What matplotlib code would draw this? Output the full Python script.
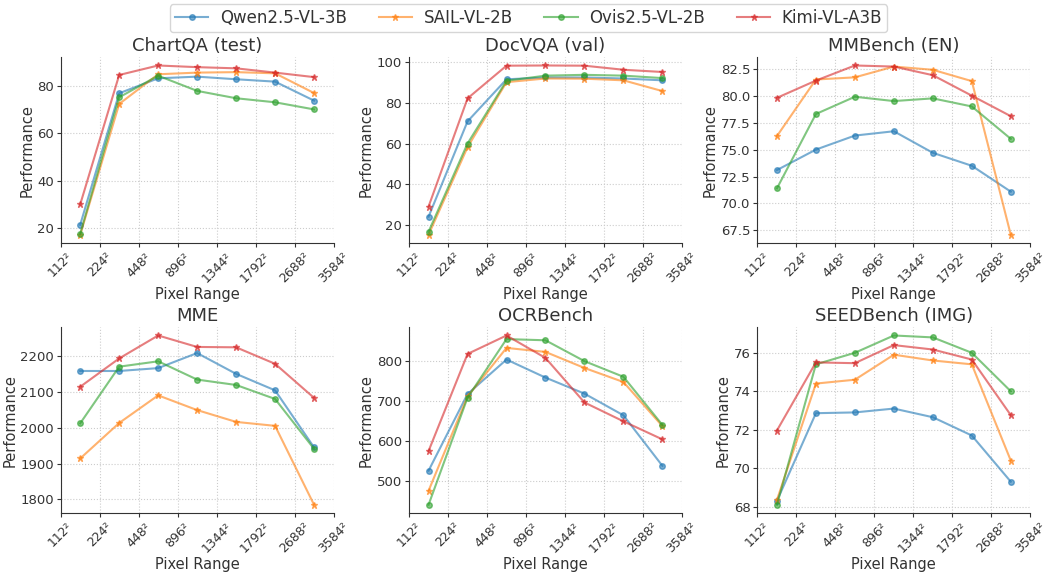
import matplotlib.pyplot as plt
from matplotlib.ticker import MultipleLocator
import numpy as np

models = ["Qwen2.5-VL-3B", "SAIL-VL-2B", "Ovis2.5-VL-2B", "Kimi-VL-A3B"]
tick_labels = ["112²", "224²", "448²", "896²", "1344²", "1792²", "2688²", "3584²"]

chartqa = [
    [21.4, 76.8, 83.1, 83.8, 82.7, 81.7, 73.7],
    [17.2, 72.3, 84.8, 85.5, 85.7, 85.2, 76.9],
    [17.6, 75.1, 84.2, 77.8, 74.7, 73.0, 70.0],
    [30.0, 84.5, 88.5, 87.8, 87.3, 85.5, 83.6],
]
docvqa = [
    [24.1, 71.0, 91.7, 92.6, 92.6, 92.1, 91.2],
    [15.2, 58.3, 90.3, 92.1, 92.0, 91.2, 85.9],
    [16.7, 60.1, 91.0, 93.5, 93.9, 93.5, 92.3],
    [29.1, 82.3, 98.4, 98.5, 98.4, 96.4, 95.3],
]
mmbench = [
    [73.1, 75.0, 76.3, 76.7, 74.7, 73.5, 71.1],
    [76.25, 81.5, 81.7, 82.7, 82.4, 81.35, 67.1],
    [71.4, 78.3, 79.9, 79.5, 79.75, 79.0, 76.0],
    [79.8, 81.4, 82.8, 82.7, 81.9, 80.0, 78.1],
]
mme = [
    [2158, 2158, 2166, 2208, 2150, 2104, 1945],
    [1914, 2013, 2090, 2049, 2016, 2005, 1785],
    [2012, 2170, 2185, 2134, 2119, 2080, 1941],
    [2114, 2193, 2257, 2225, 2224, 2178, 2083],
]
ocrbench = [
    [526, 717, 803, 758, 718, 664, 538],
    [476, 711, 832, 822, 782, 747, 637],
    [441, 708, 854, 851, 799, 760, 640],
    [575, 817, 863, 807, 696, 649, 604],
]
seedbench = [
    [68.3, 72.86, 72.9, 73.1, 72.65, 71.7, 69.3],
    [68.35, 74.4, 74.6, 75.9, 75.6, 75.4, 70.4],
    [68.1, 75.4, 76.0, 76.9, 76.8, 76.0, 74.0],
    [71.96, 75.5, 75.46, 76.4, 76.17, 75.65, 72.76],
]

titles = ["ChartQA (test)", "DocVQA (val)", "MMBench (EN)", "MME", "OCRBench", "SEEDBench (IMG)"]
datasets = [chartqa, docvqa, mmbench, mme, ocrbench, seedbench]

colors = ["#1f77b4", "#ff7f0e", "#2ca02c", "#d62728"]
markers = ["o", "*", "o", "*"]
txt = "#333333"

plt.rcParams['font.family'] = ['DejaVu Sans']
fig, axes = plt.subplots(2, 3, figsize=(10.47, 5.76), dpi=100)
fig.subplots_adjust(left=0.058, right=0.984, top=0.901, bottom=0.109, wspace=0.277, hspace=0.45)

xs = np.arange(len(chartqa[0])) + 0.5
for ax, title, data in zip(axes.flat, titles, datasets):
    for i, m in enumerate(models):
        ax.plot(xs, data[i], color=colors[i], marker=markers[i], markersize=4 if markers[i] == "o" else 5,
                linewidth=1.5, alpha=0.6, label=m)
    ax.set_xlim(0, 7)
    ax.set_xticks(np.arange(8))
    ax.set_xticklabels(tick_labels, rotation=45, color=txt, fontsize=9)
    ax.tick_params(axis="y", labelsize=9.5, labelcolor=txt, length=3, color=txt, pad=2)
    ax.tick_params(axis="x", length=3, color=txt, pad=2)
    ax.set_title(title, fontsize=13, color=txt, pad=4)
    ax.set_xlabel("Pixel Range", fontsize=10.5, color=txt, labelpad=1)
    ax.set_ylabel("Performance", fontsize=10.5, color=txt, labelpad=2)
    ax.grid(True, linestyle=":", color="#cccccc", linewidth=0.8)
    ax.spines["top"].set_visible(False)
    ax.spines["right"].set_visible(False)
    ax.spines["left"].set_color(txt)
    ax.spines["bottom"].set_color(txt)

axes[0, 2].yaxis.set_major_locator(MultipleLocator(2.5))
axes[0, 2].yaxis.set_major_formatter("{x:.1f}")

handles, labels = axes[0, 0].get_legend_handles_labels()
leg = fig.legend(handles, labels, loc="upper center", ncol=4, bbox_to_anchor=(0.505, 1.007),
                 fontsize=12, frameon=True, handlelength=2.0, columnspacing=1.9,
                 borderpad=0.3, handletextpad=0.7)
for t in leg.get_texts():
    t.set_color(txt)

fig.savefig("out.png", dpi=100)
